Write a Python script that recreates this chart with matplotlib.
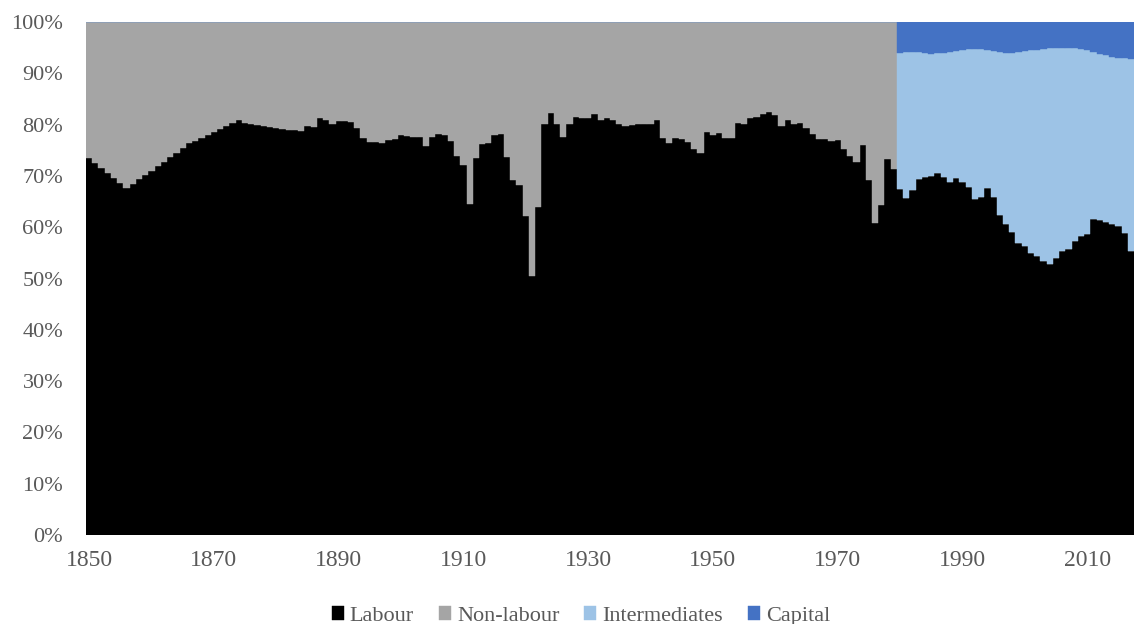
import matplotlib
matplotlib.use("Agg")
import matplotlib.pyplot as plt
import numpy as np
from matplotlib.ticker import FuncFormatter, FixedLocator

plt.rcParams['font.family'] = ['Liberation Serif', 'DejaVu Serif']

start_year = 1850
labour = [
    73.5, 72.6, 71.5, 70.5, 69.5, 68.7, 67.7, 68.4, 69.3, 70.2,
    71.0, 71.9, 72.8, 73.7, 74.5, 75.5, 76.5, 76.9, 77.3, 78.0,
    78.5, 79.1, 79.7, 80.3, 80.8, 80.4, 80.2, 80.0, 79.8, 79.5,
    79.3, 79.2, 79.0, 78.9, 78.7, 79.7, 79.6, 81.2, 80.9, 80.1,
    80.7, 80.7, 80.6, 79.3, 77.4, 76.7, 76.6, 76.5, 77.0, 77.2,
    78.0, 77.8, 77.5, 77.6, 75.9, 77.6, 78.1, 77.9, 76.8, 73.8,
    72.1, 64.5, 73.4, 76.2, 76.5, 78.0, 78.2, 73.6, 69.2, 68.2,
    62.2, 50.5, 63.9, 80.1, 82.3, 80.1, 77.5, 80.1, 81.5, 81.3,
    81.3, 82.1, 80.8, 81.2, 80.9, 80.2, 79.8, 79.9, 80.2, 80.1,
    80.1, 80.9, 77.3, 76.5, 77.3, 77.1, 76.7, 75.2, 74.5, 78.6,
    78.0, 78.3, 77.3, 77.4, 80.4, 80.1, 81.2, 81.4, 82.0, 82.5,
    81.9, 79.7, 80.8, 80.1, 80.4, 79.4, 78.2, 77.1, 77.2, 76.9,
    77.0, 75.2, 73.9, 72.7, 76.0, 69.2, 60.8, 64.4, 73.3, 71.3,
    67.4, 65.6, 67.3, 69.3, 69.7, 69.9, 70.6, 69.7, 68.9, 69.5,
    68.9, 67.8, 65.4, 65.9, 67.6, 65.8, 62.4, 60.6, 59.1, 57.0,
    56.4, 54.9, 54.4, 53.5, 52.9, 54.0, 55.4, 55.7, 57.3, 58.3,
    58.6, 61.6, 61.5, 61.1, 60.6, 60.2, 58.9, 55.4,
]
split_year = 1980  # from here on, non-labour is split into intermediates and capital
capital = [
    6.1, 5.9, 5.9, 5.9, 6.0, 6.2, 6.0, 6.0, 5.9, 5.7,
    5.4, 5.2, 5.2, 5.3, 5.5, 5.7, 5.8, 6.0, 6.0, 5.9,
    5.7, 5.5, 5.4, 5.2, 5.1, 5.0, 5.0, 5.0, 5.1, 5.2,
    5.5, 5.9, 6.2, 6.5, 6.8, 7.0, 7.1, 7.2,
]
series_names = ['Labour', 'Non-labour', 'Intermediates', 'Capital']
colors = ['#000000', '#A5A5A5', '#9DC3E6', '#4472C4']
xtick_years = [1850, 1870, 1890, 1910, 1930, 1950, 1970, 1990, 2010]

years = np.arange(start_year, start_year + len(labour))
lab = np.array(labour)
split_idx = split_year - start_year
nonlab = np.where(years < split_year, 100 - lab, 0.0)
cap = np.zeros_like(lab)
cap[split_idx:] = capital
inter = np.zeros_like(lab)
inter[split_idx:] = 100 - lab[split_idx:] - cap[split_idx:]

fig = plt.figure(figsize=(11.34, 6.24), dpi=100)
ax = fig.add_axes([86/1134, 1 - 535/624, 1048/1134, 513/624])

bottom = np.zeros_like(lab)
for vals, name, c in zip([lab, nonlab, inter, cap], series_names, colors):
    ax.bar(years, vals, width=1.0, bottom=bottom, align='edge', color=c,
           edgecolor=c, linewidth=0.3, label=name)
    bottom = bottom + vals

ax.set_xlim(start_year, start_year + len(labour))
ax.set_ylim(0, 100)
# category labels sit under the middle of each year's bar
ax.xaxis.set_major_locator(FixedLocator([y + 0.5 for y in xtick_years]))
ax.set_xticklabels([str(y) for y in xtick_years])
ax.set_yticks(np.arange(0, 101, 10))
ax.yaxis.set_major_formatter(FuncFormatter(lambda v, p: f"{int(v)}%"))
for s in ax.spines.values():
    s.set_visible(False)
ax.tick_params(axis='both', length=0, labelcolor='#595959')
ax.tick_params(axis='y', pad=16.5, labelsize=16)
ax.tick_params(axis='x', pad=11, labelsize=17)

leg = fig.legend(loc='lower center', bbox_to_anchor=(581/1134, -0.035), ncol=4,
                 frameon=False, fontsize=16, handlelength=0.54, handleheight=0.54,
                 handletextpad=0.27, columnspacing=1.13, labelcolor='#595959')

fig.savefig('out.png', dpi=100)
